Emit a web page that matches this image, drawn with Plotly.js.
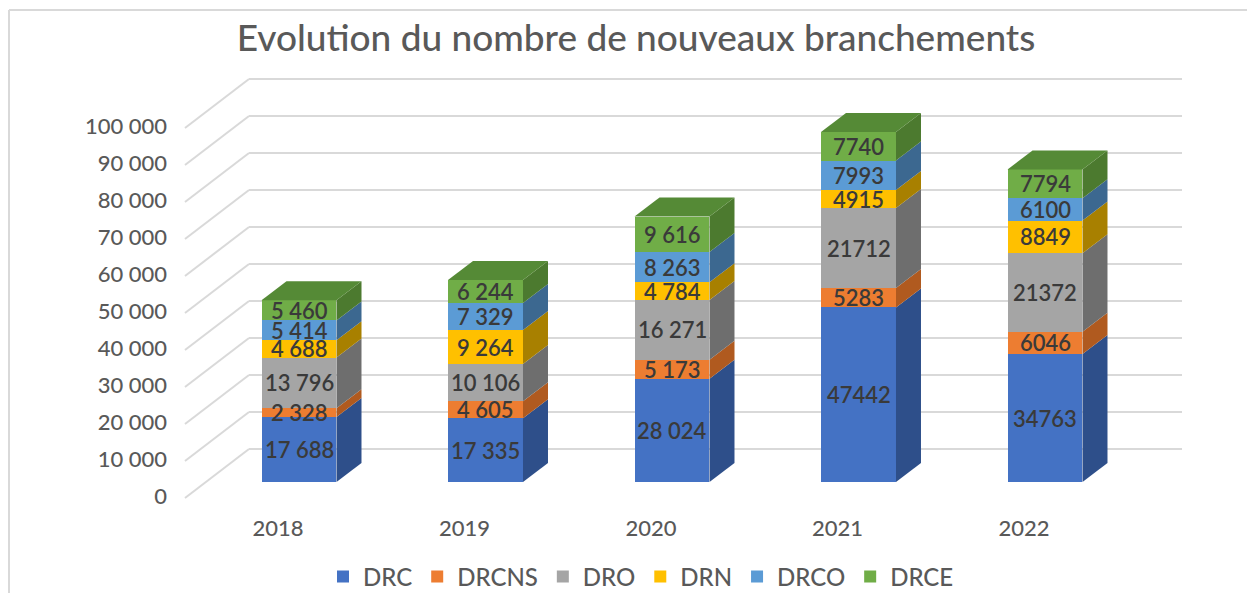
<!DOCTYPE html>
<html>
<head>
<meta charset="utf-8">
<script src="https://cdn.plot.ly/plotly-3.0.1.min.js"></script>
<style>
  html, body { margin: 0; padding: 0; background: #ffffff; }
  #chart { width: 1247px; height: 593px; }
</style>
</head>
<body>
<div id="chart"></div>
<script>
// ---------------- DATA ----------------
const years = ['2018', '2019', '2020', '2021', '2022'];
const seriesNames = ['DRC', 'DRCNS', 'DRO', 'DRN', 'DRCO', 'DRCE'];
const DRC   = [17688, 17335, 28024, 47442, 34763];
const DRCNS = [2328, 4605, 5173, 5283, 6046];
const DRO   = [13796, 10106, 16271, 21712, 21372];
const DRN   = [4688, 9264, 4784, 4915, 8849];
const DRCO  = [5414, 7329, 8263, 7993, 6100];
const DRCE  = [5460, 6244, 9616, 7740, 7794];
const yTickValues = [0, 10000, 20000, 30000, 40000, 50000, 60000, 70000, 80000, 90000, 100000];
const yTickLabels = ['0', '10 000', '20 000', '30 000', '40 000', '50 000', '60 000', '70 000', '80 000', '90 000', '100 000'];
const labelGrouped = [true, true, true, false, false]; // thousands separator shown in labels

// ---------------- STYLE ----------------
const frontColors = ['#4472C4', '#ED7D31', '#A5A5A5', '#FFC000', '#5B9BD5', '#70AD47'];
const sideColors  = ['#2E4F8A', '#B05A1F', '#6E6E6E', '#A88000', '#3C6890', '#4C7A2F'];
const topColor = '#558A36';
const font = 'Lato, "Open Sans", sans-serif';
const txt = '#595959';

// pixel geometry helpers (plot area: x 170..1200, y 60..510)
const W = 1247, H = 593;
const mL = 170, mR = 47, mT = 60, mB = 83;
const pxPerCat = 186.5, xZeroPx = 299;      // x=0 centre
const pxPerUnit = 3.68 / 1000, yZeroPx = 482; // value 0 on bar front
const xr = [(mL - xZeroPx) / pxPerCat, (W - mR - xZeroPx) / pxPerCat];
const yr = [(yZeroPx - (H - mB)) / pxPerUnit, (yZeroPx - mT) / pxPerUnit];
const barW = 0.402;
const dX = 25 / pxPerCat;        // depth offset in x units
const dY = 19 / pxPerUnit;       // depth offset in y units
const gridScale = 3.70 / 3.68;
const backOff = (yZeroPx - 449) / pxPerUnit;   // back wall zero
const frontOff = (yZeroPx - 498) / pxPerUnit;  // front floor zero
const labelOff = (yZeroPx - 496) / pxPerUnit;
const backLeftX = (249 - xZeroPx) / pxPerCat;
const backRightX = (1182 - xZeroPx) / pxPerCat;
const frontLeftX = (185 - xZeroPx) / pxPerCat;

const seriesData = [DRC, DRCNS, DRO, DRN, DRCO, DRCE];
const xIdx = years.map((_, i) => i);

function fmt(n, grouped) {
  const s = String(n);
  return grouped ? s.replace(/\B(?=(\d{3})+(?!\d))/g, ' ') : s;
}

// ---------------- TRACES ----------------
const traces = seriesData.map((vals, s) => ({
  type: 'bar',
  name: seriesNames[s],
  x: xIdx,
  y: vals,
  width: barW,
  marker: { color: frontColors[s], line: { width: 0 } },
  hoverinfo: 'skip'
}));

// ---------------- SHAPES ----------------
const shapes = [];
// back-wall gridlines and floor diagonals
yTickValues.forEach(v => {
  const yb = backOff + v * gridScale;
  const yf = frontOff + v * gridScale;
  shapes.push({ type: 'line', xref: 'x', yref: 'y', layer: 'below',
    x0: backLeftX, x1: backRightX, y0: yb, y1: yb,
    line: { color: '#D9D9D9', width: 2 } });
  shapes.push({ type: 'line', xref: 'x', yref: 'y', layer: 'below',
    x0: frontLeftX, x1: backLeftX, y0: yf, y1: yb,
    line: { color: '#D9D9D9', width: 2 } });
});

// 3D side and top faces computed from the data
const cum = xIdx.map(() => 0);
const annotations = [];
seriesData.forEach((vals, s) => {
  vals.forEach((v, i) => {
    const b = cum[i], t = cum[i] + v;
    const xl = i - barW / 2, xrr = i + barW / 2;
    shapes.push({ type: 'path', xref: 'x', yref: 'y', layer: 'above',
      path: `M${xrr},${b} L${xrr + dX},${b + dY} L${xrr + dX},${t + dY} L${xrr},${t} Z`,
      fillcolor: sideColors[s], line: { width: 0 } });
    if (s === seriesData.length - 1) {
      shapes.push({ type: 'path', xref: 'x', yref: 'y', layer: 'above',
        path: `M${xl},${t} L${xl + dX},${t + dY} L${xrr + dX},${t + dY} L${xrr},${t} Z`,
        fillcolor: topColor, line: { width: 0 } });
    }
    annotations.push({ x: i, y: b + v / 2, xref: 'x', yref: 'y',
      text: fmt(v, labelGrouped[i]), showarrow: false,
      font: { family: font, size: 22, color: '#3A3A3A', weight: 600 } });
    cum[i] = t;
  });
});

// chart frame (top + left edges)
const pw = W - mL - mR, ph = H - mT - mB;
shapes.push({ type: 'line', xref: 'paper', yref: 'paper', layer: 'below',
  x0: (9 - mL) / pw, x1: (W + 5 - mL) / pw,
  y0: ((H - mB) - 10) / ph, y1: ((H - mB) - 10) / ph,
  line: { color: '#D9D9D9', width: 2 } });
shapes.push({ type: 'line', xref: 'paper', yref: 'paper', layer: 'below',
  x0: (9 - mL) / pw, x1: (9 - mL) / pw,
  y0: ((H - mB) - 10) / ph, y1: ((H - mB) - (H + 5)) / ph,
  line: { color: '#D9D9D9', width: 2 } });

// ---------------- LAYOUT ----------------
const layout = {
  width: W, height: H,
  margin: { l: mL, r: mR, t: mT, b: mB, pad: 0, autoexpand: false },
  paper_bgcolor: '#ffffff', plot_bgcolor: 'rgba(0,0,0,0)',
  barmode: 'stack',
  bargap: 0,
  title: { text: 'Evolution du nombre de nouveaux branchements',
    font: { family: font, size: 37, color: txt, weight: 500 },
    x: 636 / W, xref: 'container', xanchor: 'center',
    y: 1 - 38 / H, yref: 'container', yanchor: 'middle' },
  xaxis: { range: xr, tickmode: 'array',
    tickvals: xIdx.map(i => i - 21 / pxPerCat), ticktext: years,
    showgrid: false, zeroline: false, showline: false,
    ticks: '', ticklabelstandoff: 3,
    tickfont: { family: font, size: 22, color: txt, weight: 500 }, fixedrange: true,
    automargin: false },
  yaxis: { range: yr, tickmode: 'array',
    tickvals: yTickValues.map(v => labelOff + v * gridScale), ticktext: yTickLabels,
    showgrid: false, zeroline: false, showline: false,
    ticks: '', ticklabelstandoff: 2,
    tickfont: { family: font, size: 22, color: txt, weight: 500 }, fixedrange: true,
    automargin: false },
  showlegend: true,
  legend: { orientation: 'h', x: (641 - mL) / pw, xanchor: 'center',
    y: ((H - mB) - 577) / ph, yanchor: 'middle',
    font: { family: font, size: 24, color: txt, weight: 500 }, itemclick: false, itemdoubleclick: false,
    traceorder: 'normal' },
  shapes: shapes,
  annotations: annotations
};

Plotly.newPlot('chart', traces, layout, { staticPlot: true, displayModeBar: false });
</script>
</body>
</html>
